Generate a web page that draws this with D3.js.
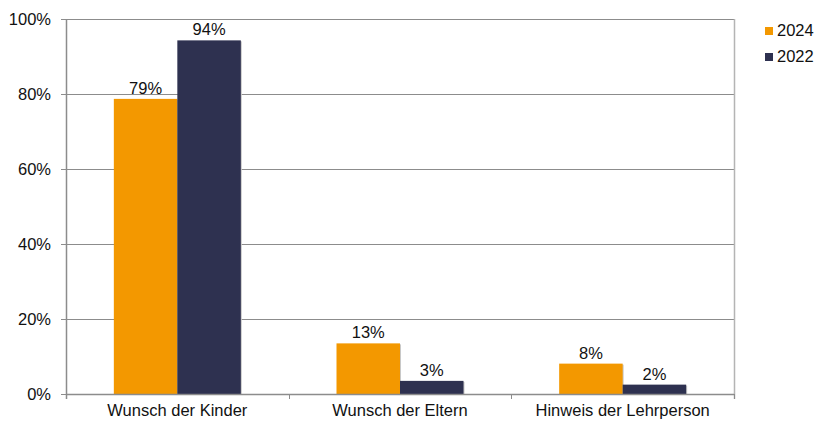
<!DOCTYPE html>
<html>
<head>
<meta charset="utf-8">
<script src="https://cdn.jsdelivr.net/npm/d3@7"></script>
<style>
  body { margin: 0; background: #fff; }
  svg text { font-family: "Liberation Sans", Arial, sans-serif; fill: #111; }
</style>
</head>
<body>
<div class="chart"></div>
<script>
var categories = ["Wunsch der Kinder", "Wunsch der Eltern", "Hinweis der Lehrperson"];
var seriesNames = ["2024", "2022"];
var values2024 = [78.7, 13.5, 8.1];
var values2022 = [94.3, 3.5, 2.5];
var labels2024 = ["79%", "13%", "8%"];
var labels2022 = ["94%", "3%", "2%"];
var yTicks = [0, 20, 40, 60, 80, 100];

var colors = ["#f39800", "#2e3150"];
var fs = 16.5;

var svgWidth = 817, svgHeight = 421;
var margin = { top: 19, right: 83, bottom: 27, left: 66 };
var width = svgWidth - margin.left - margin.right;
var height = svgHeight - margin.top - margin.bottom;

var svg = d3.select(".chart").append("svg")
  .attr("width", svgWidth)
  .attr("height", svgHeight);

var chart = svg.append("g")
  .attr("transform", "translate(" + margin.left + "," + margin.top + ")");

var x0 = d3.scaleBand().domain(categories).range([0, width]);
var x1 = d3.scaleBand().domain(seriesNames)
  .range([0, 127]);
var y = d3.scaleLinear().domain([0, 100]).range([height, 0]);

// gridlines
chart.append("g").selectAll("line")
  .data(yTicks.filter(function(d) { return d > 0; }))
  .enter().append("line")
  .attr("x1", 0).attr("x2", width)
  .attr("y1", function(d) { return Math.round(y(d)) + 0.5; })
  .attr("y2", function(d) { return Math.round(y(d)) + 0.5; })
  .attr("stroke", "#8c8c8c").attr("stroke-width", 1);

// right border
chart.append("line")
  .attr("x1", width + 0.5).attr("x2", width + 0.5)
  .attr("y1", Math.round(y(100))).attr("y2", height + 5)
  .attr("stroke", "#b4b4b4").attr("stroke-width", 1.5);

var rows = categories.map(function(c, i) {
  return [
    { cat: c, key: "2024", v: values2024[i], label: labels2024[i] },
    { cat: c, key: "2022", v: values2022[i], label: labels2022[i] }
  ];
});

var groups = chart.append("g").selectAll("g")
  .data(rows)
  .enter().append("g")
  .attr("transform", function(d) {
    return "translate(" + (x0(d[0].cat) + (x0.bandwidth() - 127) / 2) + ",0)";
  });

// soft shadow
groups.selectAll("rect.shadow")
  .data(function(d) { return d; })
  .enter().append("rect")
  .attr("class", "shadow")
  .attr("x", function(d) { return x1(d.key) + 1; })
  .attr("y", function(d) { return y(d.v) + 1; })
  .attr("width", x1.bandwidth())
  .attr("height", function(d) { return height - y(d.v); })
  .attr("fill", "#c8c8c8");

groups.selectAll("rect.bar")
  .data(function(d) { return d; })
  .enter().append("rect")
  .attr("class", "bar")
  .attr("x", function(d) { return x1(d.key); })
  .attr("y", function(d) { return y(d.v); })
  .attr("width", x1.bandwidth())
  .attr("height", function(d) { return height - y(d.v); })
  .attr("fill", function(d, i) { return colors[i]; });

groups.selectAll("text")
  .data(function(d) { return d; })
  .enter().append("text")
  .attr("x", function(d) { return x1(d.key) + x1.bandwidth() / 2; })
  .attr("y", function(d) { return y(d.v) - 5; })
  .attr("text-anchor", "middle")
  .attr("font-size", fs)
  .text(function(d) { return d.label; });

// left axis
var leftAxis = d3.axisLeft(y).tickValues(yTicks)
  .tickFormat(function(d) { return d + "%"; })
  .tickSize(5).tickPadding(10);
var gy = chart.append("g").call(leftAxis);
gy.select(".domain").remove();
gy.selectAll(".tick line").attr("stroke", "#8c8c8c");
gy.selectAll(".tick text").attr("font-size", fs).attr("fill", "#111")
  .attr("font-family", "Liberation Sans, Arial, sans-serif");
gy.append("line")
  .attr("x1", 0.5).attr("x2", 0.5)
  .attr("y1", 0).attr("y2", height + 5)
  .attr("stroke", "#8c8c8c").attr("stroke-width", 1.5);

// bottom axis
var gx = chart.append("g").attr("transform", "translate(0," + height + ")");
gx.append("line")
  .attr("x1", 0).attr("x2", width)
  .attr("y1", 0.5).attr("y2", 0.5)
  .attr("stroke", "#8c8c8c").attr("stroke-width", 1.5);
gx.selectAll("line.tick")
  .data(categories.map(function(c) { return x0(c); }).concat([width]))
  .enter().append("line")
  .attr("class", "tick")
  .attr("x1", function(d) { return Math.round(d) + 0.5; })
  .attr("x2", function(d) { return Math.round(d) + 0.5; })
  .attr("y1", 0).attr("y2", 5)
  .attr("stroke", "#8c8c8c");
gx.selectAll("text")
  .data(categories)
  .enter().append("text")
  .attr("x", function(d) { return x0(d) + x0.bandwidth() / 2; })
  .attr("y", 22)
  .attr("text-anchor", "middle")
  .attr("font-size", fs)
  .text(function(d) { return d; });

// legend
var legend = svg.append("g").attr("transform", "translate(765,27)");
var li = legend.selectAll("g")
  .data(seriesNames)
  .enter().append("g")
  .attr("transform", function(d, i) { return "translate(0," + (i * 26) + ")"; });
li.append("rect")
  .attr("width", 8).attr("height", 8)
  .attr("fill", function(d, i) { return colors[i]; });
li.append("text")
  .attr("x", 12).attr("y", 9)
  .attr("font-size", fs)
  .text(function(d) { return d; });
</script>
</body>
</html>
